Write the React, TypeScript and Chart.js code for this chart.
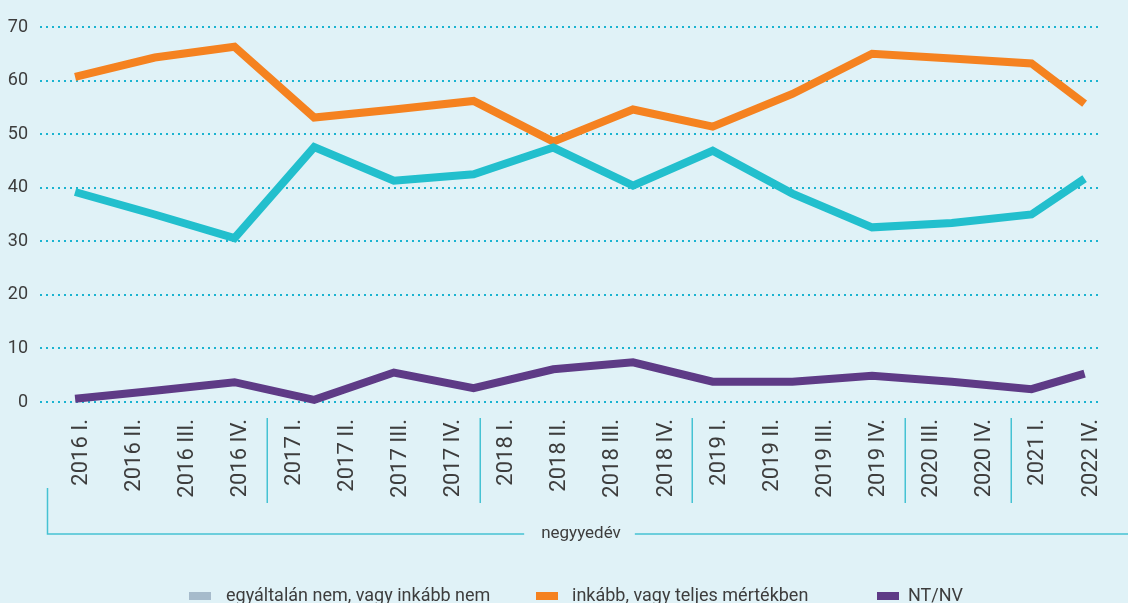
import React, { useEffect, useRef } from "react";
import { Chart, registerables } from "chart.js";

Chart.register(...registerables);

// Quarter labels shown on the horizontal axis
const quarterLabels = [
  "2016 I.", "2016 II.", "2016 III.", "2016 IV.",
  "2017 I.", "2017 II.", "2017 III.", "2017 IV.",
  "2018 I.", "2018 II.", "2018 III.", "2018 IV.",
  "2019 I.", "2019 II.", "2019 III.", "2019 IV.",
  "2020 III.", "2020 IV.", "2021 I.", "2022 IV.",
];

// Where each survey wave sits on the quarter axis (index into quarterLabels)
const wavePositions = [0, 1.5, 3, 4.5, 6, 7.5, 9, 10.5, 12, 13.5, 15, 16.5, 18, 19];

// Series values (%)
const notAtAllValues = [39.2, 35.0, 30.6, 47.6, 41.3, 42.5, 47.5, 40.4, 46.9, 38.9, 32.6, 33.4, 35.0, 41.7];
const ratherFullyValues = [60.7, 64.3, 66.3, 53.1, 54.6, 56.2, 48.6, 54.6, 51.4, 57.5, 65.0, 64.1, 63.2, 55.7];
const ntnvValues = [0.6, 2.1, 3.7, 0.4, 5.5, 2.6, 6.1, 7.4, 3.8, 3.8, 4.9, 3.8, 2.4, 5.3];

const seriesNames = [
  "egyáltalán nem, vagy inkább nem",
  "inkább, vagy teljes mértékben",
  "NT/NV",
];

const yMin = 0;
const yMax = 70;
const yStep = 10;

// indices after which a year-separator line is drawn
const yearBreaks = [3, 7, 11, 15, 17];
const axisTitle = "negyyedév";

const BG = "#e0f2f7";
const TEXT = "#3d3d3d";
const GRID = "#1ab3d0";
const SEP = "#45c2d3";
const FONT = "Roboto, 'Noto Sans', sans-serif";

const decorPlugin = {
  id: "decor",
  beforeDraw(chart: any) {
    const { ctx } = chart;
    ctx.save();
    ctx.fillStyle = BG;
    ctx.fillRect(0, 0, chart.width, chart.height);
    ctx.restore();
  },
  afterDraw(chart: any) {
    const { ctx, chartArea } = chart;
    const x = chart.scales.x;
    const b = chartArea.bottom;
    ctx.save();
    // year separators
    ctx.strokeStyle = SEP;
    ctx.lineWidth = 1.5;
    yearBreaks.forEach((i) => {
      const px = Math.round(x.getPixelForValue(i + 0.5) + 6) + 0.25;
      ctx.beginPath();
      ctx.moveTo(px, b + 16);
      ctx.lineTo(px, b + 101);
      ctx.stroke();
    });
    // bracket + axis title
    ctx.font = `17px ${FONT}`;
    const tw = ctx.measureText(axisTitle).width;
    const tx = 581;
    const by = b + 132;
    ctx.beginPath();
    ctx.moveTo(47.5, b + 86);
    ctx.lineTo(47.5, by);
    ctx.lineTo(tx - tw / 2 - 17, by);
    ctx.moveTo(tx + tw / 2 + 14, by);
    ctx.lineTo(chart.width, by);
    ctx.stroke();
    ctx.fillStyle = TEXT;
    ctx.textAlign = "center";
    ctx.textBaseline = "middle";
    ctx.fillText(axisTitle, tx, by);
    // legend
    const starts = [189, 536, 877];
    const gaps = [37, 36, 31];
    ctx.font = `18px ${FONT}`;
    ctx.textAlign = "left";
    ctx.textBaseline = "alphabetic";
    chart.data.datasets.forEach((ds: any, i: number) => {
      const sx = starts[i];
      ctx.fillStyle = ds.legendColor || ds.borderColor;
      ctx.fillRect(sx, 592, 22, 8);
      ctx.fillStyle = TEXT;
      ctx.fillText(ds.label, sx + gaps[i], 601);
    });
    ctx.restore();
  },
};

export default function App() {
  const canvasRef = useRef<HTMLCanvasElement | null>(null);

  useEffect(() => {
    const canvas = canvasRef.current;
    if (!canvas) return;
    const toPoints = (vals: number[]) => wavePositions.map((p, i) => ({ x: p, y: vals[i] }));
    const chart = new Chart(canvas, {
      type: "line",
      data: {
        datasets: [
          {
            label: seriesNames[0],
            data: toPoints(notAtAllValues),
            borderColor: "#22bfcd",
            backgroundColor: "#22bfcd",
            legendColor: "#a6bbcb",
            borderWidth: 8,
            pointRadius: 0,
            tension: 0,
            clip: false,
          } as any,
          {
            label: seriesNames[1],
            data: toPoints(ratherFullyValues),
            borderColor: "#f58220",
            backgroundColor: "#f58220",
            borderWidth: 8,
            pointRadius: 0,
            tension: 0,
            clip: false,
          } as any,
          {
            label: seriesNames[2],
            data: toPoints(ntnvValues),
            borderColor: "#5e3b86",
            backgroundColor: "#5e3b86",
            borderWidth: 8,
            pointRadius: 0,
            tension: 0,
            clip: false,
          } as any,
        ],
      },
      options: {
        animation: false,
        responsive: false,
        devicePixelRatio: 1,
        layout: { padding: { top: 27, left: 0, right: 0, bottom: 0 } },
        plugins: { legend: { display: false }, tooltip: { enabled: false } },
        scales: {
          x: {
            type: "linear",
            min: -36 / 54.53,
            max: quarterLabels.length - 1 + 16 / 54.53,
            afterBuildTicks: (s: any) => {
              s.ticks = quarterLabels.map((_, i) => ({ value: i }));
            },
            afterFit: (s: any) => {
              s.height = 201;
            },
            grid: { display: false, drawTicks: false },
            border: { display: false },
            ticks: {
              autoSkip: false,
              minRotation: 90,
              maxRotation: 90,
              padding: 17,
              labelOffset: 6.5,
              color: TEXT,
              font: { family: FONT, size: 22 },
              callback: (v: any) => quarterLabels[v] ?? "",
            },
          },
          y: {
            min: yMin,
            max: yMax,
            afterFit: (s: any) => {
              s.width = 40;
            },
            ticks: {
              stepSize: yStep,
              padding: 12,
              color: TEXT,
              font: { family: FONT, size: 18 },
            },
            grid: { color: GRID, lineWidth: 2, drawTicks: false },
            border: { display: false, dash: [2, 4] },
          },
        },
      } as any,
      plugins: [decorPlugin],
    });
    return () => chart.destroy();
  }, []);

  return (
    <div style={{ position: "fixed", left: 0, top: 0, width: 1128, height: 603, background: BG }}>
      <canvas ref={canvasRef} width={1128} height={603} style={{ display: "block" }} />
    </div>
  );
}
